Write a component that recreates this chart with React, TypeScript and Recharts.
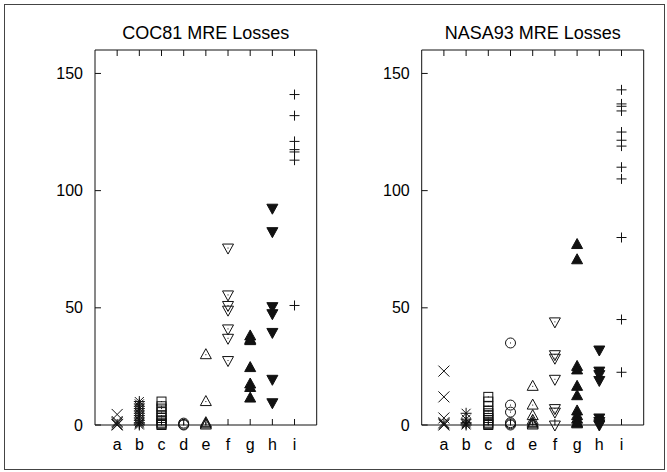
import React from "react";
import { ScatterChart, Scatter, XAxis, YAxis, ReferenceLine } from "recharts";

const categories = ["a", "b", "c", "d", "e", "f", "g", "h", "i"];
const yTicks = [0, 50, 100, 150];
const xTicks = [1, 2, 3, 4, 5, 6, 7, 8, 9];

const coc81A = [0, 0.3, 1, 1.5, 4.5];
const coc81B = [0, 0.5, 1, 2, 3, 4, 5, 6, 7, 8, 9, 10];
const coc81C = [0, 0.5, 1, 2, 3, 4, 5.5, 7, 8, 10];
const coc81D = [0, 0.3, 0.8];
const coc81E = [0, 0.5, 1, 10, 30];
const coc81F = [75.5, 55.5, 51, 49, 41, 37, 27.5];
const coc81G = [38, 36.5, 36, 24.5, 17.5, 16, 11.5];
const coc81H = [92.5, 82.5, 50.5, 47.5, 39.5, 19.5, 9.5];
const coc81I = [141, 132, 121, 117.5, 116.5, 113, 51];

const nasa93A = [23, 12, 3, 1, 0.5, 0];
const nasa93B = [5, 2.5, 1, 0.5, 0];
const nasa93C = [12, 10, 8, 6, 5, 4, 3, 2, 1, 0.5, 0];
const nasa93D = [35, 8.5, 5.5, 1, 0.5, 0];
const nasa93E = [16.5, 8.5, 4, 2, 1, 0.5, 0];
const nasa93F = [44, 30, 28.5, 19.5, 7, 5.5, 0];
const nasa93G = [77, 70.5, 25, 23.5, 16.5, 12.5, 6, 4, 2.5, 1, 0.5];
const nasa93H = [32, 23, 21.5, 19, 3, 1.5, 0.5, 0];
const nasa93I = [143, 137, 136, 134, 125, 121.5, 119, 110, 105, 80, 45, 22.5];

const coc81 = [coc81A, coc81B, coc81C, coc81D, coc81E, coc81F, coc81G, coc81H, coc81I];
const nasa93 = [nasa93A, nasa93B, nasa93C, nasa93D, nasa93E, nasa93F, nasa93G, nasa93H, nasa93I];

const markerTypes = ["cross", "star", "square", "circle", "triUp", "triDown", "triUpFill", "triDownFill", "plus"];

const INK = "#111";
const FONT = "'Liberation Sans', Arial, Helvetica, sans-serif";
const X_DOMAIN: [number, number] = [0, 10];
const Y_DOMAIN: [number, number] = [0, 160];
const PLOT_W = 222;
const PLOT_H = 375;
const TICK_PX = 6;
const xTickLen = (TICK_PX / PLOT_W) * (X_DOMAIN[1] - X_DOMAIN[0]);
const yTickLen = (TICK_PX / PLOT_H) * (Y_DOMAIN[1] - Y_DOMAIN[0]);

function Marker(props: any) {
  const { cx, cy, type } = props;
  if (cx == null || cy == null) return null;
  const s = 5.5;
  const dot = <rect x={cx - 0.5} y={cy - 0.5} width={1} height={1} fill={INK} />;
  switch (type) {
    case "cross":
      return (
        <g stroke={INK} strokeWidth={1}>
          <line x1={cx - s} y1={cy - s} x2={cx + s} y2={cy + s} />
          <line x1={cx - s} y1={cy + s} x2={cx + s} y2={cy - s} />
        </g>
      );
    case "star":
      return (
        <g stroke={INK} strokeWidth={1}>
          <line x1={cx - 4.5} y1={cy - 4.5} x2={cx + 4.5} y2={cy + 4.5} />
          <line x1={cx - 4.5} y1={cy + 4.5} x2={cx + 4.5} y2={cy - 4.5} />
          <line x1={cx - 5.5} y1={cy} x2={cx + 5.5} y2={cy} />
          <line x1={cx} y1={cy - 5.5} x2={cx} y2={cy + 5.5} />
        </g>
      );
    case "square":
      return (
        <g>
          <rect x={cx - 4.5} y={cy - 4.5} width={9} height={9} fill="none" stroke={INK} strokeWidth={1} />
          {dot}
        </g>
      );
    case "circle":
      return (
        <g>
          <circle cx={cx} cy={cy} r={5} fill="none" stroke={INK} strokeWidth={1} />
          {dot}
        </g>
      );
    case "triUp":
    case "triUpFill": {
      const fill = type === "triUpFill";
      return (
        <g>
          <polygon
            points={`${cx},${cy - 6} ${cx - 5.5},${cy + 4} ${cx + 5.5},${cy + 4}`}
            fill={fill ? INK : "none"}
            stroke={INK}
            strokeWidth={1}
          />
          {!fill && dot}
        </g>
      );
    }
    case "triDown":
    case "triDownFill": {
      const fill = type === "triDownFill";
      return (
        <g>
          <polygon
            points={`${cx},${cy + 6} ${cx - 5.5},${cy - 4} ${cx + 5.5},${cy - 4}`}
            fill={fill ? INK : "none"}
            stroke={INK}
            strokeWidth={1}
          />
          {!fill && dot}
        </g>
      );
    }
    case "plus":
    default:
      return (
        <g stroke={INK} strokeWidth={1}>
          <line x1={cx - 5} y1={cy} x2={cx + 5} y2={cy} />
          <line x1={cx} y1={cy - 5} x2={cx} y2={cy + 5} />
        </g>
      );
  }
}

function Panel(props: { values: number[][]; left: number; width: number; yAxisWidth: number; rightMargin: number; title: string; }) {
  const { values, left, width, yAxisWidth, rightMargin, title } = props;
  const plotLeft = yAxisWidth;
  const plotRight = width - rightMargin - 10;
  const center = left + (plotLeft + plotRight) / 2;
  return (
    <>
      <div
        style={{
          position: "absolute",
          left: center - 150,
          width: 300,
          top: 23.8,
          textAlign: "center",
          fontFamily: FONT,
          fontSize: 18,
          lineHeight: "18px",
          color: "#000",
          whiteSpace: "nowrap",
        }}
      >
        {title}
      </div>
      <div style={{ position: "absolute", left, top: 0 }}>
        <ScatterChart
          width={width}
          height={472}
          margin={{ top: 40, right: rightMargin, bottom: 17, left: 0 }}
        >
          <XAxis
            xAxisId={0}
            dataKey="x"
            type="number"
            domain={X_DOMAIN}
            ticks={xTicks}
            tickFormatter={(v: number) => categories[v - 1]}
            height={30}
            tickLine={false}
            tickSize={0}
            tickMargin={14}
            axisLine={{ stroke: INK, strokeWidth: 1 }}
            tick={{ fill: "#000", fontSize: 16, fontFamily: FONT }}
            interval={0}
          />
          <XAxis
            xAxisId="top"
            orientation="top"
            dataKey="x"
            type="number"
            domain={X_DOMAIN}
            ticks={xTicks}
            height={10}
            tickLine={false}
            tick={false}
            axisLine={{ stroke: INK, strokeWidth: 1 }}
          />
          <YAxis
            yAxisId={0}
            dataKey="y"
            type="number"
            domain={Y_DOMAIN}
            ticks={yTicks}
            width={yAxisWidth}
            tickLine={false}
            tickSize={0}
            tickMargin={12}
            axisLine={{ stroke: INK, strokeWidth: 1 }}
            tick={{ fill: "#000", fontSize: 16, fontFamily: FONT }}
            interval={0}
          />
          <YAxis
            yAxisId="r"
            orientation="right"
            type="number"
            domain={Y_DOMAIN}
            ticks={yTicks}
            width={10}
            tick={false}
            tickLine={false}
            axisLine={{ stroke: INK, strokeWidth: 1 }}
          />
          {xTicks.map((t) => (
            <ReferenceLine
              key={"xb" + t}
              xAxisId={0}
              yAxisId={0}
              segment={[{ x: t, y: Y_DOMAIN[0] }, { x: t, y: Y_DOMAIN[0] + yTickLen }]}
              stroke={INK}
              strokeWidth={1}
              ifOverflow="visible"
            />
          ))}
          {xTicks.map((t) => (
            <ReferenceLine
              key={"xt" + t}
              xAxisId={0}
              yAxisId={0}
              segment={[{ x: t, y: Y_DOMAIN[1] }, { x: t, y: Y_DOMAIN[1] - yTickLen }]}
              stroke={INK}
              strokeWidth={1}
              ifOverflow="visible"
            />
          ))}
          {yTicks.map((t) => (
            <ReferenceLine
              key={"yl" + t}
              xAxisId={0}
              yAxisId={0}
              segment={[{ x: X_DOMAIN[0], y: t }, { x: X_DOMAIN[0] + xTickLen, y: t }]}
              stroke={INK}
              strokeWidth={1}
              ifOverflow="visible"
            />
          ))}
          {categories.map((c, i) => (
            <Scatter
              key={c}
              xAxisId={0}
              yAxisId={0}
              data={values[i].map((v) => ({ x: i + 1, y: v }))}
              isAnimationActive={false}
              shape={(p: any) => <Marker cx={p.cx} cy={p.cy} type={markerTypes[i]} />}
            />
          ))}
        </ScatterChart>
      </div>
    </>
  );
}

export default function App() {
  return (
    <div style={{ position: "absolute", left: 0, top: 0, width: 667, height: 472, background: "#fff" }}>
      <div
        style={{
          position: "absolute",
          left: 4,
          top: 4,
          width: 661,
          height: 466,
          border: "1px solid #444",
          boxSizing: "border-box",
        }}
      />
      <Panel values={coc81} left={0} width={333} yAxisWidth={95} rightMargin={6.3} title="COC81 MRE Losses" />
      <Panel values={nasa93} left={333} width={334} yAxisWidth={88.7} rightMargin={13.3} title="NASA93 MRE Losses" />
    </div>
  );
}
